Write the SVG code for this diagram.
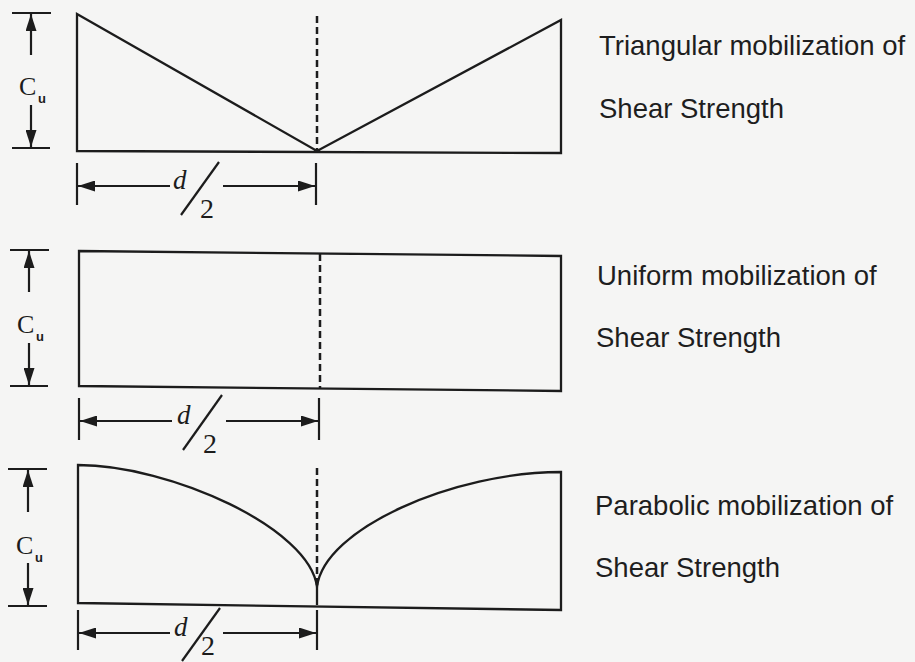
<svg xmlns="http://www.w3.org/2000/svg" width="915" height="662" viewBox="0 0 915 662">
<defs>
<style>
.ln{fill:none;stroke:#1c1c1c;stroke-width:2.3;stroke-linejoin:miter}
.dash{fill:none;stroke:#1c1c1c;stroke-width:2.5;stroke-dasharray:7 4}
.dim{fill:none;stroke:#1c1c1c;stroke-width:2.2}
.arr{fill:none;stroke:#1c1c1c;stroke-width:2.2;marker-end:url(#ah)}
.lbl{font-family:"Liberation Sans",Arial,sans-serif;font-size:27.5px;fill:#1e1e1e}
.cu{font-family:"Liberation Serif","Times New Roman",serif;font-size:26px;fill:#1c1c1c}
.sub{font-family:"Liberation Sans",Arial,sans-serif;font-size:13px;font-weight:bold;fill:#1c1c1c}
.dd{font-family:"Liberation Serif","Times New Roman",serif;font-size:27px;font-style:italic;fill:#1c1c1c}
.two{font-family:"Liberation Serif","Times New Roman",serif;font-size:28px;fill:#1c1c1c}
</style>
<marker id="ah" viewBox="0 0 17 11" refX="17" refY="5.5" markerWidth="17" markerHeight="11" markerUnits="userSpaceOnUse" orient="auto">
<path d="M0,0 L17,5.5 L0,11 Z" fill="#1c1c1c"/>
</marker>
</defs>
<rect width="915" height="662" fill="#f5f5f4"/>

<g id="panel-triangular">
<path class="ln" d="M77,14 L317,151 L561,20 L561,153 L77,151 Z"/>
<line class="dash" x1="317" y1="16" x2="317" y2="150"/>
<text class="lbl" x="599" y="55">Triangular mobilization of</text>
<text class="lbl" x="599" y="118">Shear Strength</text>
</g>

<g id="panel-uniform">
<path class="ln" d="M79,251 L561,256 L561,391 L79,386 Z"/>
<line class="dash" x1="320" y1="254" x2="320" y2="388"/>
<text class="lbl" x="597" y="285">Uniform mobilization of</text>
<text class="lbl" x="596" y="347">Shear Strength</text>
</g>

<g id="panel-parabolic">
<path class="ln" d="M78,603 L78,465 C170,465 310,528 317,587 C324,528 455,472 561,472 L561,610 Z"/>
<line class="ln" x1="317" y1="587" x2="317" y2="605"/>
<line class="dash" x1="317" y1="468" x2="317" y2="585"/>
<text class="lbl" x="595" y="515">Parabolic mobilization of</text>
<text class="lbl" x="595" y="577">Shear Strength</text>
</g>

<g id="dimensions">
<line class="dim" x1="12" y1="13" x2="51" y2="13"/>
<line class="dim" x1="12" y1="148" x2="50" y2="148"/>
<line class="arr" x1="31" y1="55" x2="31" y2="14"/>
<line class="arr" x1="31" y1="105" x2="31" y2="147"/>
<text class="cu" x="19" y="95">C</text><text class="sub" x="38" y="103">u</text>
<line class="dim" x1="77" y1="163" x2="77" y2="205"/>
<line class="dim" x1="316" y1="163" x2="316" y2="205"/>
<line class="arr" x1="170" y1="186" x2="78" y2="186"/>
<line class="arr" x1="223" y1="186" x2="315" y2="186"/>
<text class="dd" x="173" y="189">d</text>
<line class="dim" x1="219" y1="162" x2="181" y2="215"/>
<text class="two" x="200" y="218">2</text>

<line class="dim" x1="10" y1="250" x2="49" y2="250"/>
<line class="dim" x1="10" y1="386" x2="48" y2="386"/>
<line class="arr" x1="29" y1="292" x2="29" y2="251"/>
<line class="arr" x1="29" y1="343" x2="29" y2="385"/>
<text class="cu" x="17" y="333">C</text><text class="sub" x="36" y="341">u</text>
<line class="dim" x1="79" y1="398" x2="79" y2="440"/>
<line class="dim" x1="319" y1="398" x2="319" y2="440"/>
<line class="arr" x1="172" y1="421" x2="80" y2="421"/>
<line class="arr" x1="226" y1="421" x2="318" y2="421"/>
<text class="dd" x="177" y="424">d</text>
<line class="dim" x1="222" y1="395" x2="183" y2="450"/>
<text class="two" x="203" y="453">2</text>

<line class="dim" x1="8" y1="469" x2="47" y2="469"/>
<line class="dim" x1="8" y1="606" x2="47" y2="606"/>
<line class="arr" x1="28" y1="512" x2="28" y2="470"/>
<line class="arr" x1="28" y1="563" x2="28" y2="605"/>
<text class="cu" x="16" y="554">C</text><text class="sub" x="35" y="562">u</text>
<line class="dim" x1="78" y1="610" x2="78" y2="650"/>
<line class="dim" x1="317" y1="610" x2="317" y2="650"/>
<line class="arr" x1="170" y1="633" x2="79" y2="633"/>
<line class="arr" x1="223" y1="633" x2="316" y2="633"/>
<text class="dd" x="174" y="636">d</text>
<line class="dim" x1="220" y1="608" x2="182" y2="661"/>
<text class="two" x="201" y="655">2</text>
</g>
</svg>
